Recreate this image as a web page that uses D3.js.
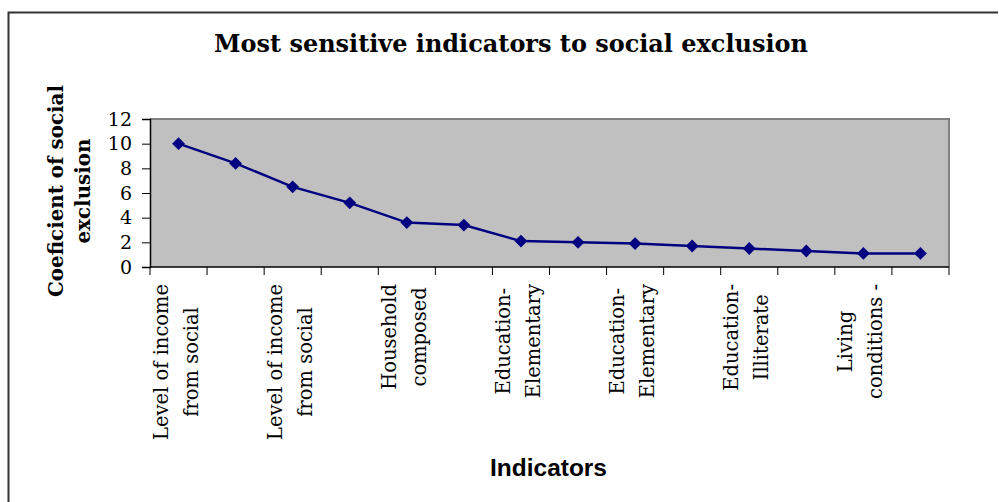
<!DOCTYPE html>
<html>
<head>
<meta charset="utf-8">
<script src="https://cdn.jsdelivr.net/npm/d3@7"></script>
<style>
  html, body { margin: 0; padding: 0; background: #fff; }
  svg { display: block; }
</style>
</head>
<body>
<svg id="chart" width="999" height="502"></svg>
<script>
// ---- data ----
const categories = ["C1","C2","C3","C4","C5","C6","C7","C8","C9","C10","C11","C12","C13","C14"];
const values = [10.0, 8.4, 6.5, 5.2, 3.6, 3.4, 2.1, 2.0, 1.9, 1.7, 1.5, 1.3, 1.1, 1.1];
const tickLabels = [
  ["Level of income", "from social"], [],
  ["Level of income", "from social"], [],
  ["Household", "composed"], [],
  ["Education-", "Elementary"], [],
  ["Education-", "Elementary"], [],
  ["Education-", "Illiterate"], [],
  ["Living", "conditions -"], []
];
const yTicks = [0, 2, 4, 6, 8, 10, 12];
const title = "Most sensitive indicators to social exclusion";
const yTitle = ["Coeficient of social", "exclusion"];
const xTitle = "Indicators";

// ---- layout ----
const svg = d3.select("#chart");
const plot = { left: 150, right: 949, top: 119, bottom: 267 };

function fit(sel, target) {
  const w = sel.node().getComputedTextLength();
  const fs = parseFloat(sel.attr("font-size"));
  sel.attr("font-size", (fs * target / w).toFixed(2));
}

// outer frame
svg.append("path")
  .attr("d", "M8.5,502 L8.5,12.5 L998,12.5")
  .attr("fill", "none").attr("stroke", "#333").attr("stroke-width", 2);

const x = d3.scaleBand().domain(categories).range([plot.left, plot.right]).padding(0);
const y = d3.scaleLinear().domain([0, 12]).range([plot.bottom, plot.top]);

// plot area
svg.append("rect")
  .attr("x", plot.left).attr("y", plot.top)
  .attr("width", plot.right - plot.left).attr("height", plot.bottom - plot.top)
  .attr("fill", "#c0c0c0");
svg.append("path")
  .attr("d", `M${plot.left},${plot.top} L${plot.right},${plot.top} L${plot.right},${plot.bottom}`)
  .attr("fill", "none").attr("stroke", "#808080").attr("stroke-width", 2);

// y axis
const yAxis = svg.append("g").attr("transform", `translate(${plot.left},0)`)
  .call(d3.axisLeft(y).tickValues(yTicks).tickSize(8).tickPadding(10).tickFormat(d3.format("d")));
yAxis.select(".domain").attr("stroke", "#000").attr("stroke-width", 1.5);
yAxis.selectAll(".tick line").attr("stroke", "#000");
yAxis.selectAll(".tick text")
  .attr("font-family", "'DejaVu Serif', serif").attr("font-size", 19).attr("fill", "#000");

// x axis (ticks at band boundaries)
const boundaries = d3.range(categories.length + 1).map(i => plot.left + i * x.bandwidth());
const xAxisG = svg.append("g");
xAxisG.append("line")
  .attr("x1", plot.left).attr("x2", plot.right).attr("y1", plot.bottom).attr("y2", plot.bottom)
  .attr("stroke", "#000").attr("stroke-width", 1.5);
xAxisG.selectAll("line.tk").data(boundaries).join("line").attr("class", "tk")
  .attr("x1", d => d).attr("x2", d => d)
  .attr("y1", plot.bottom).attr("y2", plot.bottom + 8)
  .attr("stroke", "#000").attr("stroke-width", 1);

// x tick labels
const labelFont = "'DejaVu Serif', serif";
let labelSize = 18;
const probe = svg.append("text").attr("font-family", labelFont).attr("font-size", labelSize).text("Level of income");
fit(probe, 156);
labelSize = parseFloat(probe.attr("font-size"));
probe.remove();

categories.forEach((c, i) => {
  const lines = tickLabels[i];
  if (!lines || !lines.length) return;
  const cx = x(c) + x.bandwidth() / 2;
  const g = svg.append("g");
  const texts = lines.map((t, j) => g.append("text")
    .attr("font-family", labelFont).attr("font-size", labelSize).attr("fill", "#000")
    .attr("text-anchor", "middle").text(t));
  const maxW = d3.max(texts, t => t.node().getComputedTextLength());
  const cy = 284 + maxW / 2;
  const offs = [-11, 19];
  texts.forEach((t, j) => {
    t.attr("transform", `translate(${cx + offs[j]},${cy}) rotate(-90)`);
  });
});

// line + markers
const line = d3.line().x((d, i) => x(categories[i]) + x.bandwidth() / 2).y(d => y(d));
svg.append("path").datum(values)
  .attr("d", line).attr("fill", "none").attr("stroke", "#000080").attr("stroke-width", 2.5);
svg.selectAll("path.mk").data(values).join("path").attr("class", "mk")
  .attr("d", d3.symbol().type(d3.symbolDiamond2).size(105))
  .attr("transform", (d, i) => `translate(${x(categories[i]) + x.bandwidth() / 2},${y(d)})`)
  .attr("fill", "#000080");

// title
const t = svg.append("text")
  .attr("x", 511).attr("y", 52).attr("text-anchor", "middle")
  .attr("font-family", "'DejaVu Serif', serif").attr("font-weight", "bold")
  .attr("font-size", 20).attr("fill", "#000").text(title);
fit(t, 594);

// y title
const yt1 = svg.append("text")
  .attr("transform", "translate(63,191) rotate(-90)").attr("text-anchor", "middle")
  .attr("font-family", "'DejaVu Serif', serif").attr("font-weight", "bold")
  .attr("font-size", 18).attr("fill", "#000").text(yTitle[0]);
fit(yt1, 212);
svg.append("text")
  .attr("transform", "translate(90,191) rotate(-90)").attr("text-anchor", "middle")
  .attr("font-family", "'DejaVu Serif', serif").attr("font-weight", "bold")
  .attr("font-size", yt1.attr("font-size")).attr("fill", "#000").text(yTitle[1]);

// x title
const xt = svg.append("text")
  .attr("x", 548.5).attr("y", 476).attr("text-anchor", "middle")
  .attr("font-family", "'Liberation Sans', Arial, sans-serif").attr("font-weight", "bold")
  .attr("font-size", 24).attr("fill", "#000").text(xTitle);
fit(xt, 117);
</script>
</body>
</html>
